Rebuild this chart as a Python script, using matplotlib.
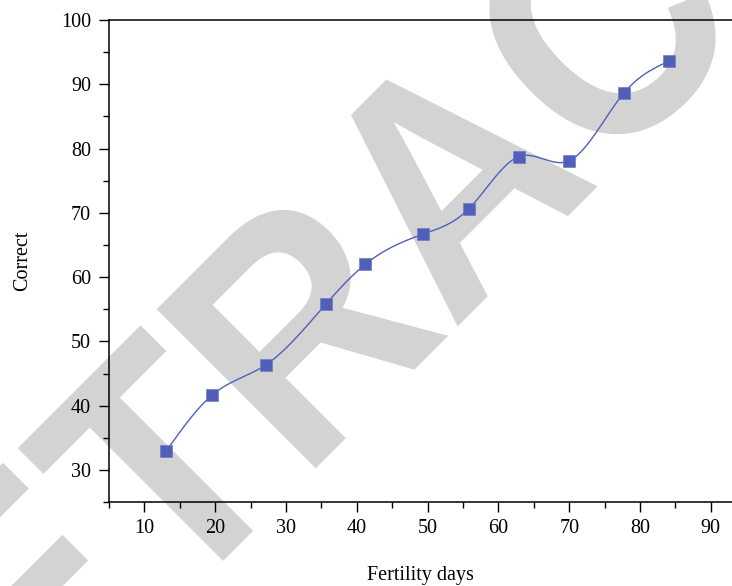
import numpy as np
import matplotlib
matplotlib.use("Agg")
import matplotlib.pyplot as plt
from matplotlib.ticker import MultipleLocator
from matplotlib.textpath import TextPath
from matplotlib.font_manager import FontProperties
from matplotlib.patches import PathPatch
from matplotlib.transforms import Affine2D, IdentityTransform

# values
days = [13.1, 19.6, 27.2, 35.7, 41.2, 49.4, 55.8, 62.9, 70.0, 77.7, 84.1]
correct = [33.0, 41.7, 46.4, 55.9, 62.0, 66.7, 70.6, 78.75, 78.1, 88.6, 93.6]

x_label = "Fertility days"
y_label = "Correct"
watermark = "RETRACTED"

blue = "#5060b8"


def natural_spline(x, y, n=400):
    # natural cubic spline used only to draw the smooth connecting line
    x = np.asarray(x, float)
    y = np.asarray(y, float)
    k = len(x)
    h = np.diff(x)
    A = np.zeros((k, k))
    b = np.zeros(k)
    A[0, 0] = A[-1, -1] = 1
    for i in range(1, k - 1):
        A[i, i - 1] = h[i - 1]
        A[i, i] = 2 * (h[i - 1] + h[i])
        A[i, i + 1] = h[i]
        b[i] = 6 * ((y[i + 1] - y[i]) / h[i] - (y[i] - y[i - 1]) / h[i - 1])
    m = np.linalg.solve(A, b)
    xs = np.linspace(x[0], x[-1], n)
    idx = np.clip(np.searchsorted(x, xs) - 1, 0, k - 2)
    t0 = x[idx + 1] - xs
    t1 = xs - x[idx]
    hi = h[idx]
    ys = (m[idx] * t0 ** 3 + m[idx + 1] * t1 ** 3) / (6 * hi) \
        + (y[idx] / hi - m[idx] * hi / 6) * t0 \
        + (y[idx + 1] / hi - m[idx + 1] * hi / 6) * t1
    return xs, ys


plt.rcParams["font.family"] = ["Liberation Serif", "DejaVu Serif"]

fig = plt.figure(figsize=(7.32, 5.86), dpi=100)
ax = fig.add_axes([0.149, 0.143, 0.851, 0.823])
ax.set_facecolor("none")

# big grey watermark behind the plot (slightly condensed bold sans)
wm_path = TextPath((0, 0), watermark, size=1,
                   prop=FontProperties(family="Liberation Sans", weight="bold"))
wm_tf = Affine2D().translate(-1.694, 0).scale(295, 327).rotate_deg(45).translate(238, 40)
wm = PathPatch(wm_tf.transform_path(wm_path), facecolor="#d3d3d3",
               edgecolor="none", transform=IdentityTransform(), zorder=-1)
fig.add_artist(wm)

xs, ys = natural_spline(days, correct)
ax.plot(xs, ys, color=blue, linewidth=1.0, zorder=2)
ax.plot(days, correct, linestyle="none", marker="s", markersize=8.5,
        color=blue, markeredgecolor="#6f7cc4", markeredgewidth=0.5, zorder=3)

ax.set_xlim(5, 93)
ax.set_ylim(25, 100)
ax.xaxis.set_major_locator(MultipleLocator(10))
ax.xaxis.set_minor_locator(MultipleLocator(5))
ax.yaxis.set_major_locator(MultipleLocator(10))
ax.yaxis.set_minor_locator(MultipleLocator(5))

for side in ["left", "bottom", "top"]:
    ax.spines[side].set_linewidth(1.1)
ax.spines["right"].set_visible(False)

ax.tick_params(which="major", direction="out", length=7, width=1.0,
               labelsize=14.5, top=False, right=False)
ax.tick_params(which="minor", direction="out", length=4, width=1.0,
               top=False, right=False)
ax.tick_params(axis="y", pad=6)
ax.tick_params(axis="x", pad=5)

ax.set_xlabel(x_label, fontsize=14.5, labelpad=20)
ax.set_ylabel(y_label, fontsize=14.5, labelpad=21)

fig.savefig("out.png", dpi=100)
